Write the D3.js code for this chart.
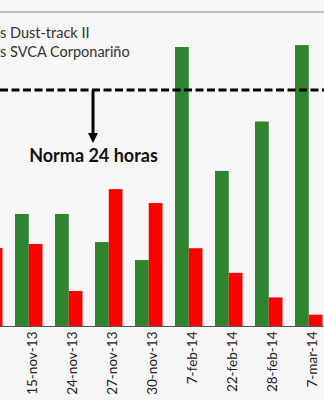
<!DOCTYPE html>
<html>
<head>
<meta charset="utf-8">
<script src="https://cdn.jsdelivr.net/npm/d3@7/dist/d3.min.js"></script>
<style>
  html, body { margin: 0; padding: 0; background: #f6f6f7; }
  svg { display: block; }
</style>
</head>
<body>
<svg id="chart" width="324" height="400"></svg>
<script>
// ---- data ----
const categories = ["", "15-nov-13", "24-nov-13", "27-nov-13", "30-nov-13", "7-feb-14", "22-feb-14", "28-feb-14", "7-mar-14"];
const dustTrack = [null, 47.6, 47.6, 35.7, 28.1, 118.2, 65.8, 86.7, 119.0];
const svca      = [33.2, 34.9, 15.0, 58.1, 52.2, 33.1, 22.7, 12.3, 5.0];
const seriesNames = ["s Dust-track II", "s SVCA Corponariño"];
const norma = 100;
const normaLabel = "Norma 24 horas";
const yMax = 133;

const W = 324, H = 400;
const svg = d3.select("#chart");
const green = "#2f8430", red = "#ff0000";

svg.append("rect").attr("width", W).attr("height", H).attr("fill", "#f6f6f7");

const x0 = d3.scaleBand().domain(categories).range([-31.25, 328.75])
  .paddingInner(0.3125).paddingOuter(0.15625);
const x1 = d3.scaleBand().domain(["g", "r"]).range([0, x0.bandwidth()]).padding(0);
const y = d3.scaleLinear().domain([0, yMax]).range([326.5, 12]);

// top border line
svg.append("line").attr("x1", 0).attr("x2", W).attr("y1", y(yMax)).attr("y2", y(yMax))
  .attr("stroke", "#8c8c8c").attr("stroke-width", 1.2);

// legend text
svg.append("text").attr("x", 0).attr("y", 37.5).text(seriesNames[0])
  .attr("font-family", "Lato, 'Open Sans', sans-serif").attr("font-size", 14.5).attr("fill", "#333");
svg.append("text").attr("x", 0).attr("y", 56.5).text(seriesNames[1])
  .attr("font-family", "Lato, 'Open Sans', sans-serif").attr("font-size", 14.5).attr("fill", "#333");

// bars
const groups = svg.append("g").selectAll("g").data(categories).join("g")
  .attr("transform", d => `translate(${x0(d)},0)`);
groups.each(function(c, i) {
  const g = d3.select(this);
  if (dustTrack[i] != null) {
    g.append("rect").attr("x", x1("g")).attr("width", x1.bandwidth())
      .attr("y", y(dustTrack[i])).attr("height", y(0) - y(dustTrack[i])).attr("fill", green);
  }
  if (svca[i] != null) {
    g.append("rect").attr("x", x1("r")).attr("width", x1.bandwidth())
      .attr("y", y(svca[i])).attr("height", y(0) - y(svca[i])).attr("fill", red);
  }
});

// baseline axis
const xAxis = d3.axisBottom(x0).tickSize(0).tickFormat(d => d);
const ax = svg.append("g").attr("transform", `translate(0,${y(0)})`).call(xAxis);
ax.select(".domain").attr("stroke", "#555").attr("stroke-width", 1.2).attr("d", `M0,0H${W}`);
ax.selectAll(".tick text")
  .attr("font-family", "Lato, 'Open Sans', sans-serif").attr("font-size", 13.5).attr("fill", "#222")
  .attr("text-anchor", "end")
  .attr("transform", "translate(4,5) rotate(-90)")
  .attr("x", 0).attr("y", 0).attr("dy", "0.35em");

// norm dashed line
svg.append("line").attr("x1", 0).attr("x2", W).attr("y1", y(norma)).attr("y2", y(norma))
  .attr("stroke", "#000").attr("stroke-width", 3).attr("stroke-dasharray", "8,3.5");

// arrow
const ax0 = 93;
svg.append("line").attr("x1", ax0).attr("x2", ax0).attr("y1", y(norma)).attr("y2", 136)
  .attr("stroke", "#000").attr("stroke-width", 3);
svg.append("path").attr("d", `M${ax0-5},133 L${ax0+5},133 L${ax0},143 Z`).attr("fill", "#000");

svg.append("text").attr("x", 93.5).attr("y", 162).attr("text-anchor", "middle")
  .attr("font-family", "Lato, 'Open Sans', sans-serif").attr("font-weight", "bold")
  .attr("font-size", 18).attr("fill", "#111").text(normaLabel);
</script>
</body>
</html>
